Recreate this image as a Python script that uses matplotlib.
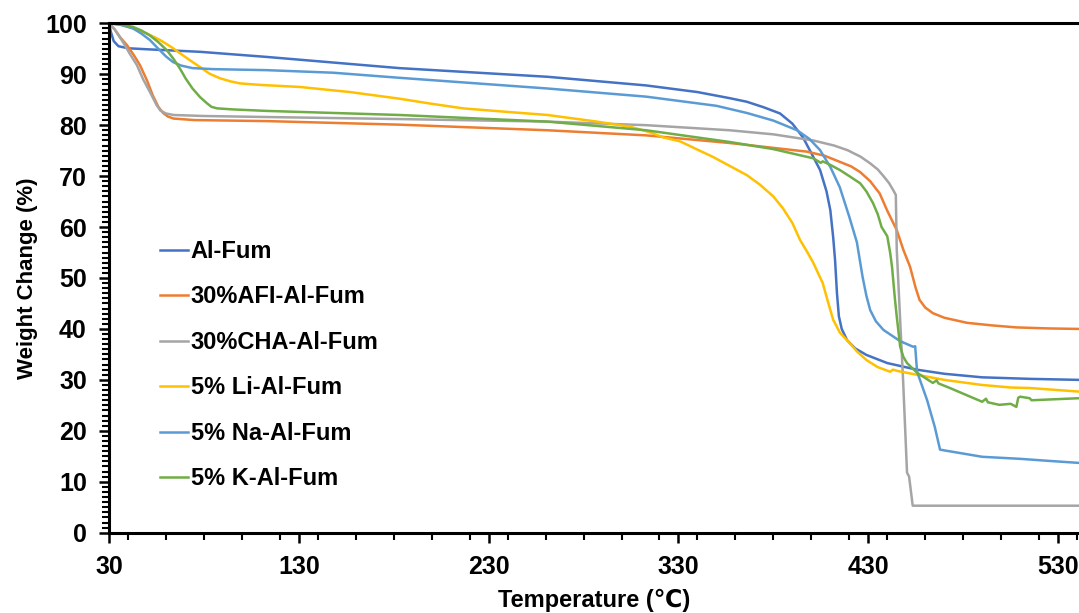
import matplotlib
matplotlib.use("Agg")
import matplotlib.pyplot as plt
from matplotlib.ticker import MultipleLocator

plt.rcParams['font.family'] = ['Liberation Sans', 'DejaVu Sans']
plt.rcParams['font.weight'] = 'bold'

# TGA curves (temperature in C, weight in %)
al_fum_t = [30, 31, 32.5, 35, 40, 50, 78, 113, 183, 261, 313, 340, 357, 366, 375, 383.5, 390, 395.6,
            400, 404.6, 408, 410, 411.5, 412.5, 413.5, 414.5, 416, 418.8, 423, 429, 440, 455.6, 470,
            490, 515, 541]
al_fum_w = [100, 98.3, 96.5, 95.5, 95.1, 94.9, 94.4, 93.4, 91.2, 89.5, 87.8, 86.5, 85.3, 84.6, 83.5,
            82.3, 80.3, 77.6, 74.5, 71.2, 67.0, 63.3, 58.0, 53.5, 47.0, 42.5, 40.0, 37.8, 36.2, 34.9,
            33.3, 32.0, 31.2, 30.5, 30.2, 30.0]

afi_t = [30, 33, 36, 39.5, 43, 46.3, 50, 53, 56, 58.5, 61, 64, 75, 113, 183, 261, 313, 357, 397.8,
         407, 415, 421, 425.7, 431, 436, 440, 445, 448.5, 452, 455, 457, 460, 464, 470, 482, 495,
         508, 525, 541]
afi_w = [100, 98.8, 97.2, 95.7, 93.8, 91.8, 88.8, 85.9, 83.6, 82.4, 81.7, 81.3, 81.0, 80.8, 80.1,
         79.0, 78.0, 76.5, 74.8, 74.0, 72.8, 71.9, 70.8, 69.0, 66.6, 63.2, 59.4, 55.5, 52.2, 48.0,
         45.7, 44.2, 43.1, 42.2, 41.2, 40.7, 40.3, 40.1, 40.0]

cha_t = [30, 33, 37.4, 41, 44.7, 48, 51.6, 55, 57, 60, 64, 80, 113, 183, 261, 313, 357, 380, 401,
         412, 419, 426, 431, 435, 438, 441, 443.5, 444.5, 445, 448.4, 450.4, 451.5, 453.4, 541]
cha_w = [100, 98.8, 96.3, 94.0, 91.8, 89.0, 86.5, 84.0, 82.9, 82.3, 82.0, 81.8, 81.6, 81.2, 80.7,
         80.0, 79.0, 78.2, 77.0, 76.0, 75.1, 73.8, 72.5, 71.3, 70.0, 68.6, 67.0, 66.3, 55.5, 29.4,
         11.8, 11.0, 5.3, 5.3]

li_t = [30, 36, 42.6, 50, 57, 63, 69, 74, 78, 83, 88.5, 94, 99, 110, 130.6, 157, 183, 200, 216.5,
        240, 261, 287, 304.5, 315, 322, 331, 340, 348, 357, 366, 373, 380, 385, 390, 394, 398, 401,
        406, 409, 411.5, 415, 420, 424, 429, 435, 441.5, 443, 446, 455.7, 470, 490, 505, 515, 541]
li_w = [100, 99.8, 99, 98, 96.7, 95.3, 93.7, 92.4, 91.4, 90.1, 89.2, 88.6, 88.2, 87.9, 87.5, 86.5,
        85.2, 84.2, 83.3, 82.6, 82.0, 80.7, 79.7, 78.6, 77.6, 76.8, 75.2, 73.8, 72.0, 70.2, 68.3,
        66.0, 63.7, 60.8, 57.5, 55.0, 53.0, 49.0, 45.0, 41.8, 39.3, 37.3, 35.6, 33.9, 32.5, 31.6,
        32.0, 31.7, 31.0, 30.0, 29.0, 28.5, 28.4, 27.7]

na_t = [30, 36, 42.6, 47, 51.6, 56, 60, 63.7, 68, 74, 85, 113, 148, 183, 261, 313, 350, 366, 380,
        392.5, 399, 404.6, 410, 415, 420, 424, 427, 429, 431, 434, 438, 446.8, 453.6, 454.7, 455.7,
        461, 465, 467.8, 490, 510, 525, 541]
na_w = [100, 99.7, 99, 98, 96.7, 95, 93.5, 92.4, 91.7, 91.2, 91.0, 90.8, 90.3, 89.3, 87.2, 85.6,
        83.8, 82.4, 80.9, 79.0, 77.3, 75.1, 71.8, 67.8, 62.0, 57.0, 50.2, 46.5, 43.7, 41.5, 39.8,
        37.6, 36.5, 36.6, 31.6, 26.0, 20.8, 16.3, 14.9, 14.5, 14.1, 13.7]

k_t = [30, 36, 42.6, 47, 51.6, 56, 60.5, 64, 67.4, 70.5, 74, 78, 81.6, 84, 87, 95, 113, 183, 261,
       313, 357, 380, 401, 405, 406, 410, 415, 420, 425.7, 429, 432.5, 435, 437, 440, 441.5, 442.5,
       444, 445, 446.8, 448.5, 450.4, 455.7, 464, 466, 467, 473, 490, 492, 493, 499, 505, 508, 509,
       510, 515, 516, 541]
k_w = [100, 99.8, 99.3, 98.6, 97.6, 96.3, 94.7, 93.0, 91.1, 89.1, 87.2, 85.5, 84.3, 83.6, 83.3, 83.1,
       82.8, 82.0, 80.7, 79.0, 76.7, 75.3, 73.5, 72.6, 72.9, 72.2, 71.2, 70.0, 68.6, 67.0, 64.7, 62.5,
       60.0, 58.2, 55.0, 52.2, 46.0, 42.4, 36.5, 34.5, 33.3, 31.4, 29.4, 29.9, 29.3, 28.4, 25.7, 26.3,
       25.6, 25.1, 25.3, 24.7, 26.5, 26.7, 26.4, 26.0, 26.4]

series = [
    ("Al-Fum", al_fum_t, al_fum_w, "#4472C4"),
    ("30%AFI-Al-Fum", afi_t, afi_w, "#ED7D31"),
    ("30%CHA-Al-Fum", cha_t, cha_w, "#A5A5A5"),
    ("5% Li-Al-Fum", li_t, li_w, "#FFC000"),
    ("5% Na-Al-Fum", na_t, na_w, "#5B9BD5"),
    ("5% K-Al-Fum", k_t, k_w, "#70AD47"),
]

fig, ax = plt.subplots(figsize=(10.79, 6.13), dpi=100)
fig.subplots_adjust(left=0.101, right=1.0, top=0.962, bottom=0.131)

for name, t, w, col in series:
    ax.plot(t, w, color=col, lw=1.8, label=name)

ax.set_xlim(30, 541)
ax.set_ylim(0, 100)
ax.set_xticks([30, 130, 230, 330, 430, 530])
ax.xaxis.set_minor_locator(MultipleLocator(20))
ax.yaxis.set_major_locator(MultipleLocator(10))
ax.yaxis.set_minor_locator(MultipleLocator(1))

for side in ['left', 'bottom', 'top']:
    ax.spines[side].set_linewidth(2.2)
ax.spines['right'].set_visible(False)
ax.tick_params(which='major', direction='out', length=7, width=1.8, labelsize=18, pad=9)
ax.tick_params(which='minor', direction='out', length=5, width=1.5)
for lab in ax.get_xticklabels() + ax.get_yticklabels():
    lab.set_fontweight('bold')

ax.set_xlabel("Temperature (℃)", fontsize=17, fontweight='bold', labelpad=7)
ax.set_ylabel("Weight Change (%)", fontsize=16, fontweight='bold', labelpad=5)

leg = ax.legend(loc='upper left', bbox_to_anchor=(0.043, 0.593), frameon=False, fontsize=17,
                handlelength=1.2, handletextpad=0.1, labelspacing=0.95, borderaxespad=0)
for txt in leg.get_texts():
    txt.set_fontweight('bold')

fig.savefig("out.png", dpi=100)
